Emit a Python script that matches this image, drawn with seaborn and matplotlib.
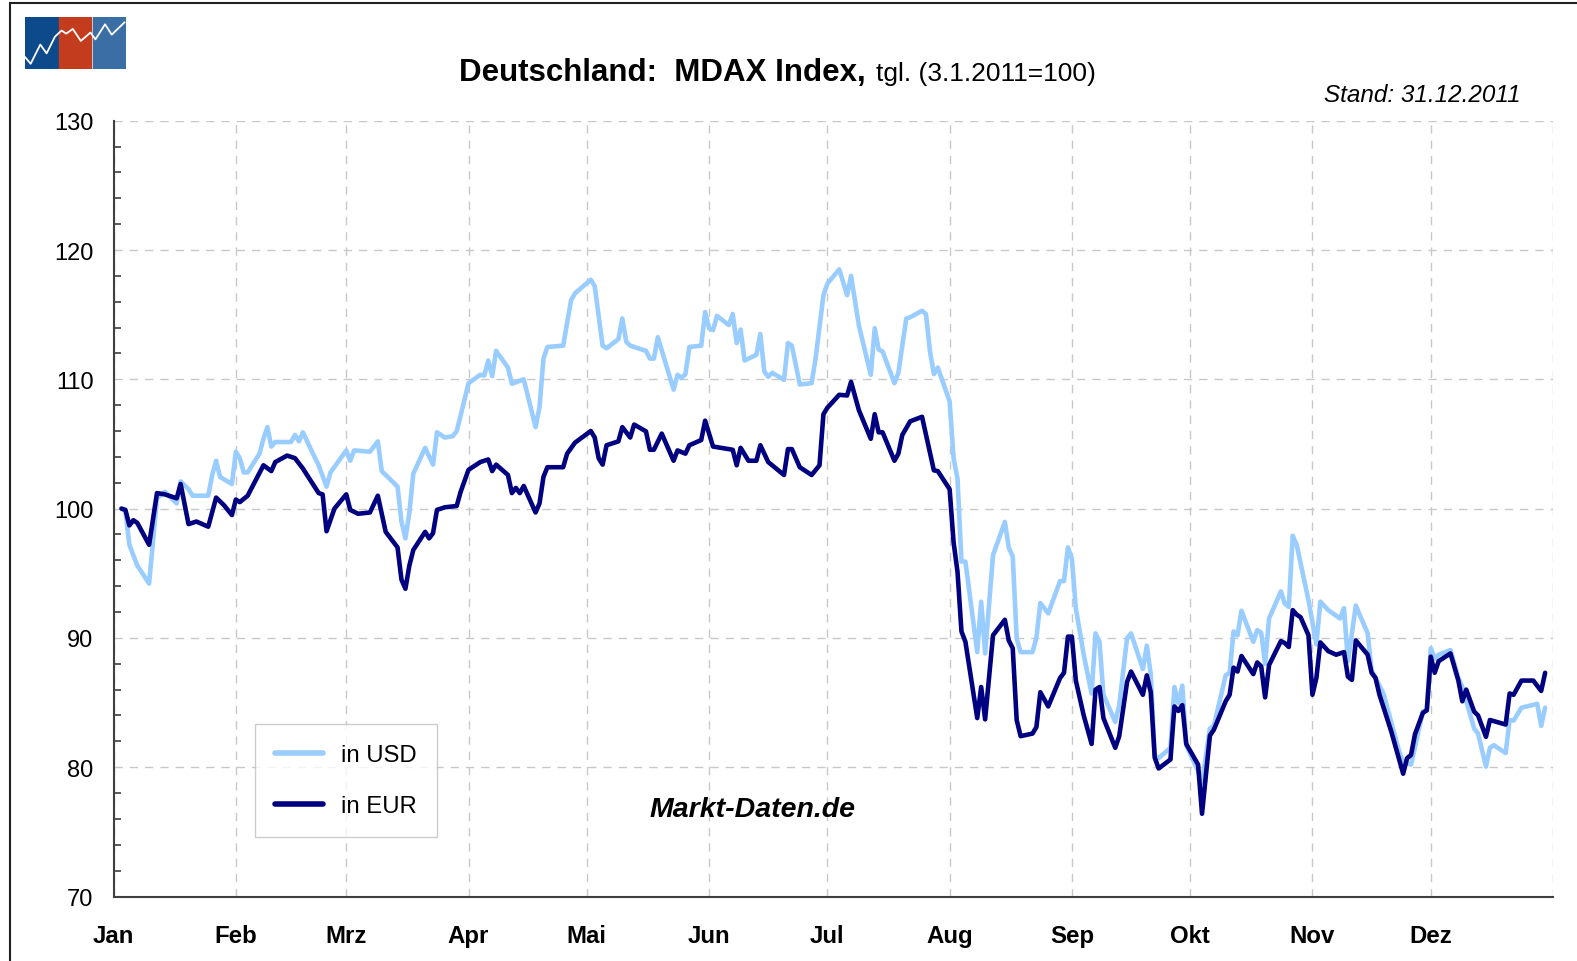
import pandas as pd
import numpy as np
import matplotlib
matplotlib.use("Agg")
import matplotlib.pyplot as plt
from matplotlib.patches import Rectangle
from matplotlib.ticker import MultipleLocator
import seaborn as sns

# Tage seit 1.1.2011 und Indexwerte (3.1.2011 = 100)
usd_day = [2, 3, 4, 6, 9, 11, 13, 16, 17, 19, 20, 24, 25, 26, 27, 30,
           31, 32, 33, 34, 37, 38, 39, 40, 41, 45, 46, 47, 48, 50, 52, 54, 55,
           59, 60, 61, 65, 67, 68, 70, 72, 73, 74, 75, 76, 79, 81, 82, 84, 86, 87, 88,
           90, 93, 94, 95, 96, 97, 100, 101, 104, 107, 108, 109, 110, 114, 116, 117,
           121, 122, 124, 125, 128, 129, 130, 131, 135, 136, 137, 138, 142, 143, 144, 145, 146, 149, 150,
           151, 152, 153, 156, 157, 158, 159, 160, 163, 164, 165, 166, 167, 170, 171, 172, 174, 177, 178, 180,
           181, 184, 186, 187, 189, 192, 193, 194, 195, 198, 199, 201, 202, 205, 206, 207, 208, 209,
           212, 213, 214, 215, 216, 219, 220, 221, 223, 226, 227, 228, 229, 230, 233, 234, 235, 237, 240, 241, 242,
           243, 244, 246, 248, 249, 250, 251, 254, 255, 257, 258, 261, 262, 263, 264, 265, 268, 269, 270, 271, 272,
           275, 276, 278, 279, 282, 283, 284, 285, 286, 289, 290, 291, 292, 293, 296, 297, 298, 299, 300, 303,
           305, 306, 308, 311, 312, 313, 315, 318, 319, 322, 326, 327, 329, 332, 333,
           334, 335, 336, 339, 341, 342, 345, 346, 348, 349, 350, 353, 354, 355, 357, 361, 362, 363]
usd_val = [100.0, 99.8, 97.2, 95.6, 94.2, 100.8, 101.3, 100.4, 102.1, 101.5, 101.0, 101.0, 102.6, 103.7, 102.45, 101.9,
           104.4, 103.9, 102.8, 102.8, 104.25, 105.4, 106.3, 104.8, 105.15, 105.15, 105.7, 105.2, 105.9, 104.6, 103.35, 101.7, 102.8,
           104.5, 103.7, 104.5, 104.4, 105.2, 102.9, 102.3, 101.7, 99.0, 97.7, 99.7, 102.7, 104.7, 103.4, 105.9, 105.5, 105.6, 106.0, 107.2,
           109.7, 110.35, 110.3, 111.45, 110.25, 112.2, 110.9, 109.65, 110.0, 106.3, 107.85, 111.6, 112.5, 112.6, 116.1, 116.65,
           117.7, 117.2, 112.6, 112.4, 113.1, 114.7, 112.9, 112.6, 112.2, 111.6, 111.6, 113.25, 109.2, 110.35, 110.1, 110.4, 112.5, 112.6, 115.2,
           113.95, 113.8, 114.9, 114.2, 115.05, 112.8, 113.85, 111.45, 111.9, 113.5, 110.6, 110.2, 110.5, 109.96, 112.8, 112.6, 109.6, 109.7, 111.6, 116.5,
           117.4, 118.5, 116.5, 118.0, 114.15, 110.35, 113.95, 112.3, 112.15, 109.7, 110.5, 114.7, 114.8, 115.3, 115.05, 112.2, 110.4, 110.9,
           108.3, 103.9, 102.3, 95.9, 95.9, 88.9, 92.8, 88.8, 96.4, 98.97, 96.97, 96.3, 89.96, 88.9, 88.9, 90.0, 92.7, 91.9, 94.4, 94.4, 97.0,
           96.1, 92.3, 88.7, 85.7, 90.35, 89.7, 85.6, 83.5, 84.8, 89.98, 90.35, 87.6, 89.4, 87.2, 80.9, 80.7, 81.5, 86.2, 84.95, 86.3, 81.7,
           79.7, 78.8, 83.0, 83.2, 87.1, 87.3, 90.5, 90.2, 92.1, 89.7, 90.6, 90.4, 88.0, 91.5, 93.6, 92.65, 92.4, 97.9, 97.2, 92.9,
           89.5, 92.8, 92.15, 91.5, 92.3, 88.2, 92.5, 90.35, 87.5, 85.7, 81.2, 80.4, 80.2, 84.3, 84.4,
           89.2, 88.4, 88.7, 89.06, 86.9, 86.2, 83.0, 82.6, 80.05, 81.5, 81.7, 81.1, 83.65, 83.6, 84.6, 84.9, 83.2, 84.6]

eur_day = [2, 3, 4, 5, 6, 9, 11, 13, 16, 17, 19, 21, 24, 26, 28, 30,
           31, 32, 34, 38, 40, 41, 44, 46, 48, 52, 53, 54, 56,
           59, 60, 62, 65, 67, 69, 72, 73, 74, 75, 76, 79, 80, 81, 82, 84, 87, 88,
           90, 93, 95, 96, 97, 100, 101, 102, 103, 104, 107, 108, 109, 110, 114, 115, 117,
           121, 122, 123, 124, 125, 128, 129, 131, 132, 135, 136, 137, 139, 142, 143, 145, 146, 149, 150,
           152, 157, 158, 159, 161, 163, 164, 166, 170, 171, 172, 174, 177, 179, 180,
           181, 184, 186, 187, 189, 192, 193, 194, 195, 198, 199, 200, 202, 205, 208, 209,
           212, 213, 214, 215, 216, 219, 220, 221, 223, 226, 227, 228, 229, 230, 233, 234, 235, 237, 240, 241, 242,
           243, 244, 246, 248, 249, 250, 251, 254, 255, 257, 258, 261, 262, 263, 264, 265, 268, 269, 270, 271, 272,
           275, 276, 278, 279, 282, 283, 284, 285, 286, 289, 290, 291, 292, 293, 296, 297, 298, 299, 300, 301, 303,
           304, 305, 306, 308, 310, 312, 313, 314, 315, 318, 319, 320, 321, 324, 327, 328, 329, 330, 332, 333,
           334, 335, 336, 339, 341, 342, 343, 345, 346, 348, 349, 353, 354, 355, 357, 360, 362, 363]
eur_val = [100.0, 99.9, 98.7, 99.1, 98.9, 97.2, 101.2, 101.1, 100.8, 101.9, 98.8, 99.0, 98.6, 100.85, 100.26, 99.5,
           100.7, 100.5, 101.0, 103.35, 102.9, 103.6, 104.1, 103.9, 103.1, 101.2, 101.1, 98.25, 100.0,
           101.1, 99.9, 99.6, 99.7, 101.0, 98.2, 97.0, 94.5, 93.8, 95.6, 96.8, 98.2, 97.7, 98.1, 99.9, 100.1, 100.2, 101.3,
           103.0, 103.6, 103.8, 102.9, 103.4, 102.6, 101.2, 101.6, 101.2, 101.75, 99.7, 100.4, 102.45, 103.2, 103.2, 104.25, 105.1,
           106.0, 105.5, 103.9, 103.4, 104.9, 105.2, 106.3, 105.5, 106.5, 105.97, 104.55, 104.55, 105.8, 103.7, 104.5, 104.25, 104.9, 105.3, 106.8,
           104.8, 104.55, 103.35, 104.7, 103.7, 103.7, 104.9, 103.6, 102.6, 104.6, 104.6, 103.2, 102.6, 103.35, 107.3,
           107.8, 108.8, 108.75, 109.8, 107.6, 105.4, 107.3, 105.9, 105.9, 103.7, 104.25, 105.7, 106.75, 107.1, 102.96, 102.9,
           101.5, 97.4, 95.1, 90.5, 89.7, 83.8, 86.2, 83.7, 90.2, 91.4, 89.8, 89.2, 83.65, 82.4, 82.6, 83.1, 85.8, 84.7, 86.9, 87.3, 90.1,
           90.1, 86.7, 84.0, 81.8, 86.0, 86.2, 83.8, 81.5, 82.4, 86.6, 87.4, 85.6, 87.1, 85.8, 80.75, 79.9, 80.6, 84.7, 84.35, 84.8, 81.8,
           80.2, 76.4, 82.45, 82.9, 85.1, 85.6, 87.7, 87.4, 88.6, 87.2, 88.1, 87.8, 85.4, 87.9, 89.75, 89.6, 89.3, 92.15, 91.8, 91.6, 90.2,
           85.6, 86.9, 89.65, 88.98, 88.7, 88.9, 87.0, 86.75, 89.8, 88.7, 87.3, 86.9, 85.6, 82.75, 79.5, 80.7, 80.95, 82.55, 84.2, 84.4,
           88.55, 87.3, 88.2, 88.8, 86.7, 85.1, 86.0, 84.3, 84.0, 82.35, 83.65, 83.3, 85.7, 85.6, 86.7, 86.7, 85.9, 87.3]

series_names = ["in USD", "in EUR"]
month_labels = ["Jan", "Feb", "Mrz", "Apr", "Mai", "Jun", "Jul", "Aug", "Sep", "Okt", "Nov", "Dez"]
colors = {"in USD": "#99CCFF", "in EUR": "#000080"}

base = pd.Timestamp("2011-01-01")
df = pd.concat([
    pd.DataFrame({"Datum": base + pd.to_timedelta(usd_day, unit="D"), "Index": usd_val, "Serie": "in USD"}),
    pd.DataFrame({"Datum": base + pd.to_timedelta(eur_day, unit="D"), "Index": eur_val, "Serie": "in EUR"}),
], ignore_index=True)

sns.set_style("white")
plt.rcParams.update({
    "font.family": ["Liberation Sans", "DejaVu Sans"],
    "text.color": "black",
    "axes.labelcolor": "black",
    "xtick.color": "black",
    "ytick.color": "black",
})

W, H = 1577, 962
fig = plt.figure(figsize=(W / 100, H / 100), dpi=100)
ax = fig.add_axes([113.6 / W, 1 - 897.5 / H, (1553 - 113.6) / W, (897.5 - 121.7) / H])

sns.lineplot(data=df, x="Datum", y="Index", hue="Serie", hue_order=series_names,
             palette=colors, linewidth=3.3, estimator=None, sort=True, ax=ax)

# axes
ax.set_xlim(base, pd.Timestamp("2012-01-01"))
ax.set_ylim(70, 130)
month_starts = pd.date_range("2011-01-01", "2012-01-01", freq="MS")
ax.set_xticks(month_starts)
ax.set_xticklabels(month_labels + [""], fontsize=17.3, fontweight="bold")
ax.yaxis.set_major_locator(MultipleLocator(10))
ax.yaxis.set_minor_locator(MultipleLocator(2))
ax.tick_params(axis="y", which="major", direction="inout", length=9, width=1.2,
               labelsize=17, pad=10, color="#404040", labelcolor="black")
ax.tick_params(axis="y", which="minor", direction="in", length=5, width=1.2, color="#404040", left=True)
ax.tick_params(axis="x", which="major", direction="inout", length=9, width=1.2, pad=15,
               color="#404040", labelcolor="black")
ax.grid(True, which="major", axis="both", color="#C8C8C8", linestyle=(0, (6, 5)), linewidth=1.0)
ax.set_axisbelow(True)
for s in ["top", "right"]:
    ax.spines[s].set_visible(False)
for s in ["left", "bottom"]:
    ax.spines[s].set_color("#404040")
    ax.spines[s].set_linewidth(1.5)
ax.set_xlabel("")
ax.set_ylabel("")

# legend
ax.get_legend().remove()
handles, labels = ax.get_legend_handles_labels()
leg = fig.legend(handles, labels, loc="upper left", bbox_to_anchor=(255 / W, 1 - 725 / H),
                 fontsize=17.2, frameon=True, fancybox=False, handlelength=2.0,
                 labelspacing=1.2, borderpad=0.85, handletextpad=0.75, borderaxespad=0)
leg.get_frame().set_edgecolor("#C0C0C0")
leg.get_frame().set_linewidth(1.0)
for line in leg.get_lines():
    line.set_linewidth(4)
for t in leg.get_texts():
    t.set_color("black")

# texts
fig.text(866 / W, 1 - 81 / H, "Deutschland:  MDAX Index,", fontsize=22.5, fontweight="bold",
         ha="right", va="baseline", color="black")
fig.text(876 / W, 1 - 81 / H, "tgl. (3.1.2011=100)", fontsize=19, ha="left", va="baseline",
         color="black")
fig.text(1521 / W, 1 - 102 / H, "Stand: 31.12.2011", fontsize=17.5, style="italic",
         ha="right", va="baseline", color="black")
fig.text(752 / W, 1 - 810 / H, "Markt-Daten.de", fontsize=20.5, style="italic", fontweight="bold",
         ha="center", va="center", color="black")

# frame around the figure
fig.patches.append(Rectangle((10 / W, -0.1), 1.2, 1 - 4 / H + 0.1, transform=fig.transFigure,
                             fill=False, edgecolor="#202020", linewidth=1.5))

# logo
lax = fig.add_axes([25 / W, 1 - 70 / H, 101 / W, 52 / H])
for i, c in enumerate(["#0D4A8C", "#C43C1E", "#3A6EA5"]):
    lax.add_patch(Rectangle((i * 1.02, 0), 0.98, 1, color=c))
zig_x = [0.0, 0.17, 0.46, 0.65, 0.9, 1.1, 1.24, 1.44, 1.68, 1.97, 2.12, 2.41, 2.61, 3.0]
zig_y = [0.23, 0.1, 0.47, 0.3, 0.62, 0.74, 0.68, 0.77, 0.54, 0.7, 0.57, 0.86, 0.66, 0.9]
lax.plot(zig_x, zig_y, color="white", linewidth=1.3)
lax.set_xlim(0, 3.04)
lax.set_ylim(0, 1)
lax.axis("off")

fig.savefig("out.png", dpi=100)
